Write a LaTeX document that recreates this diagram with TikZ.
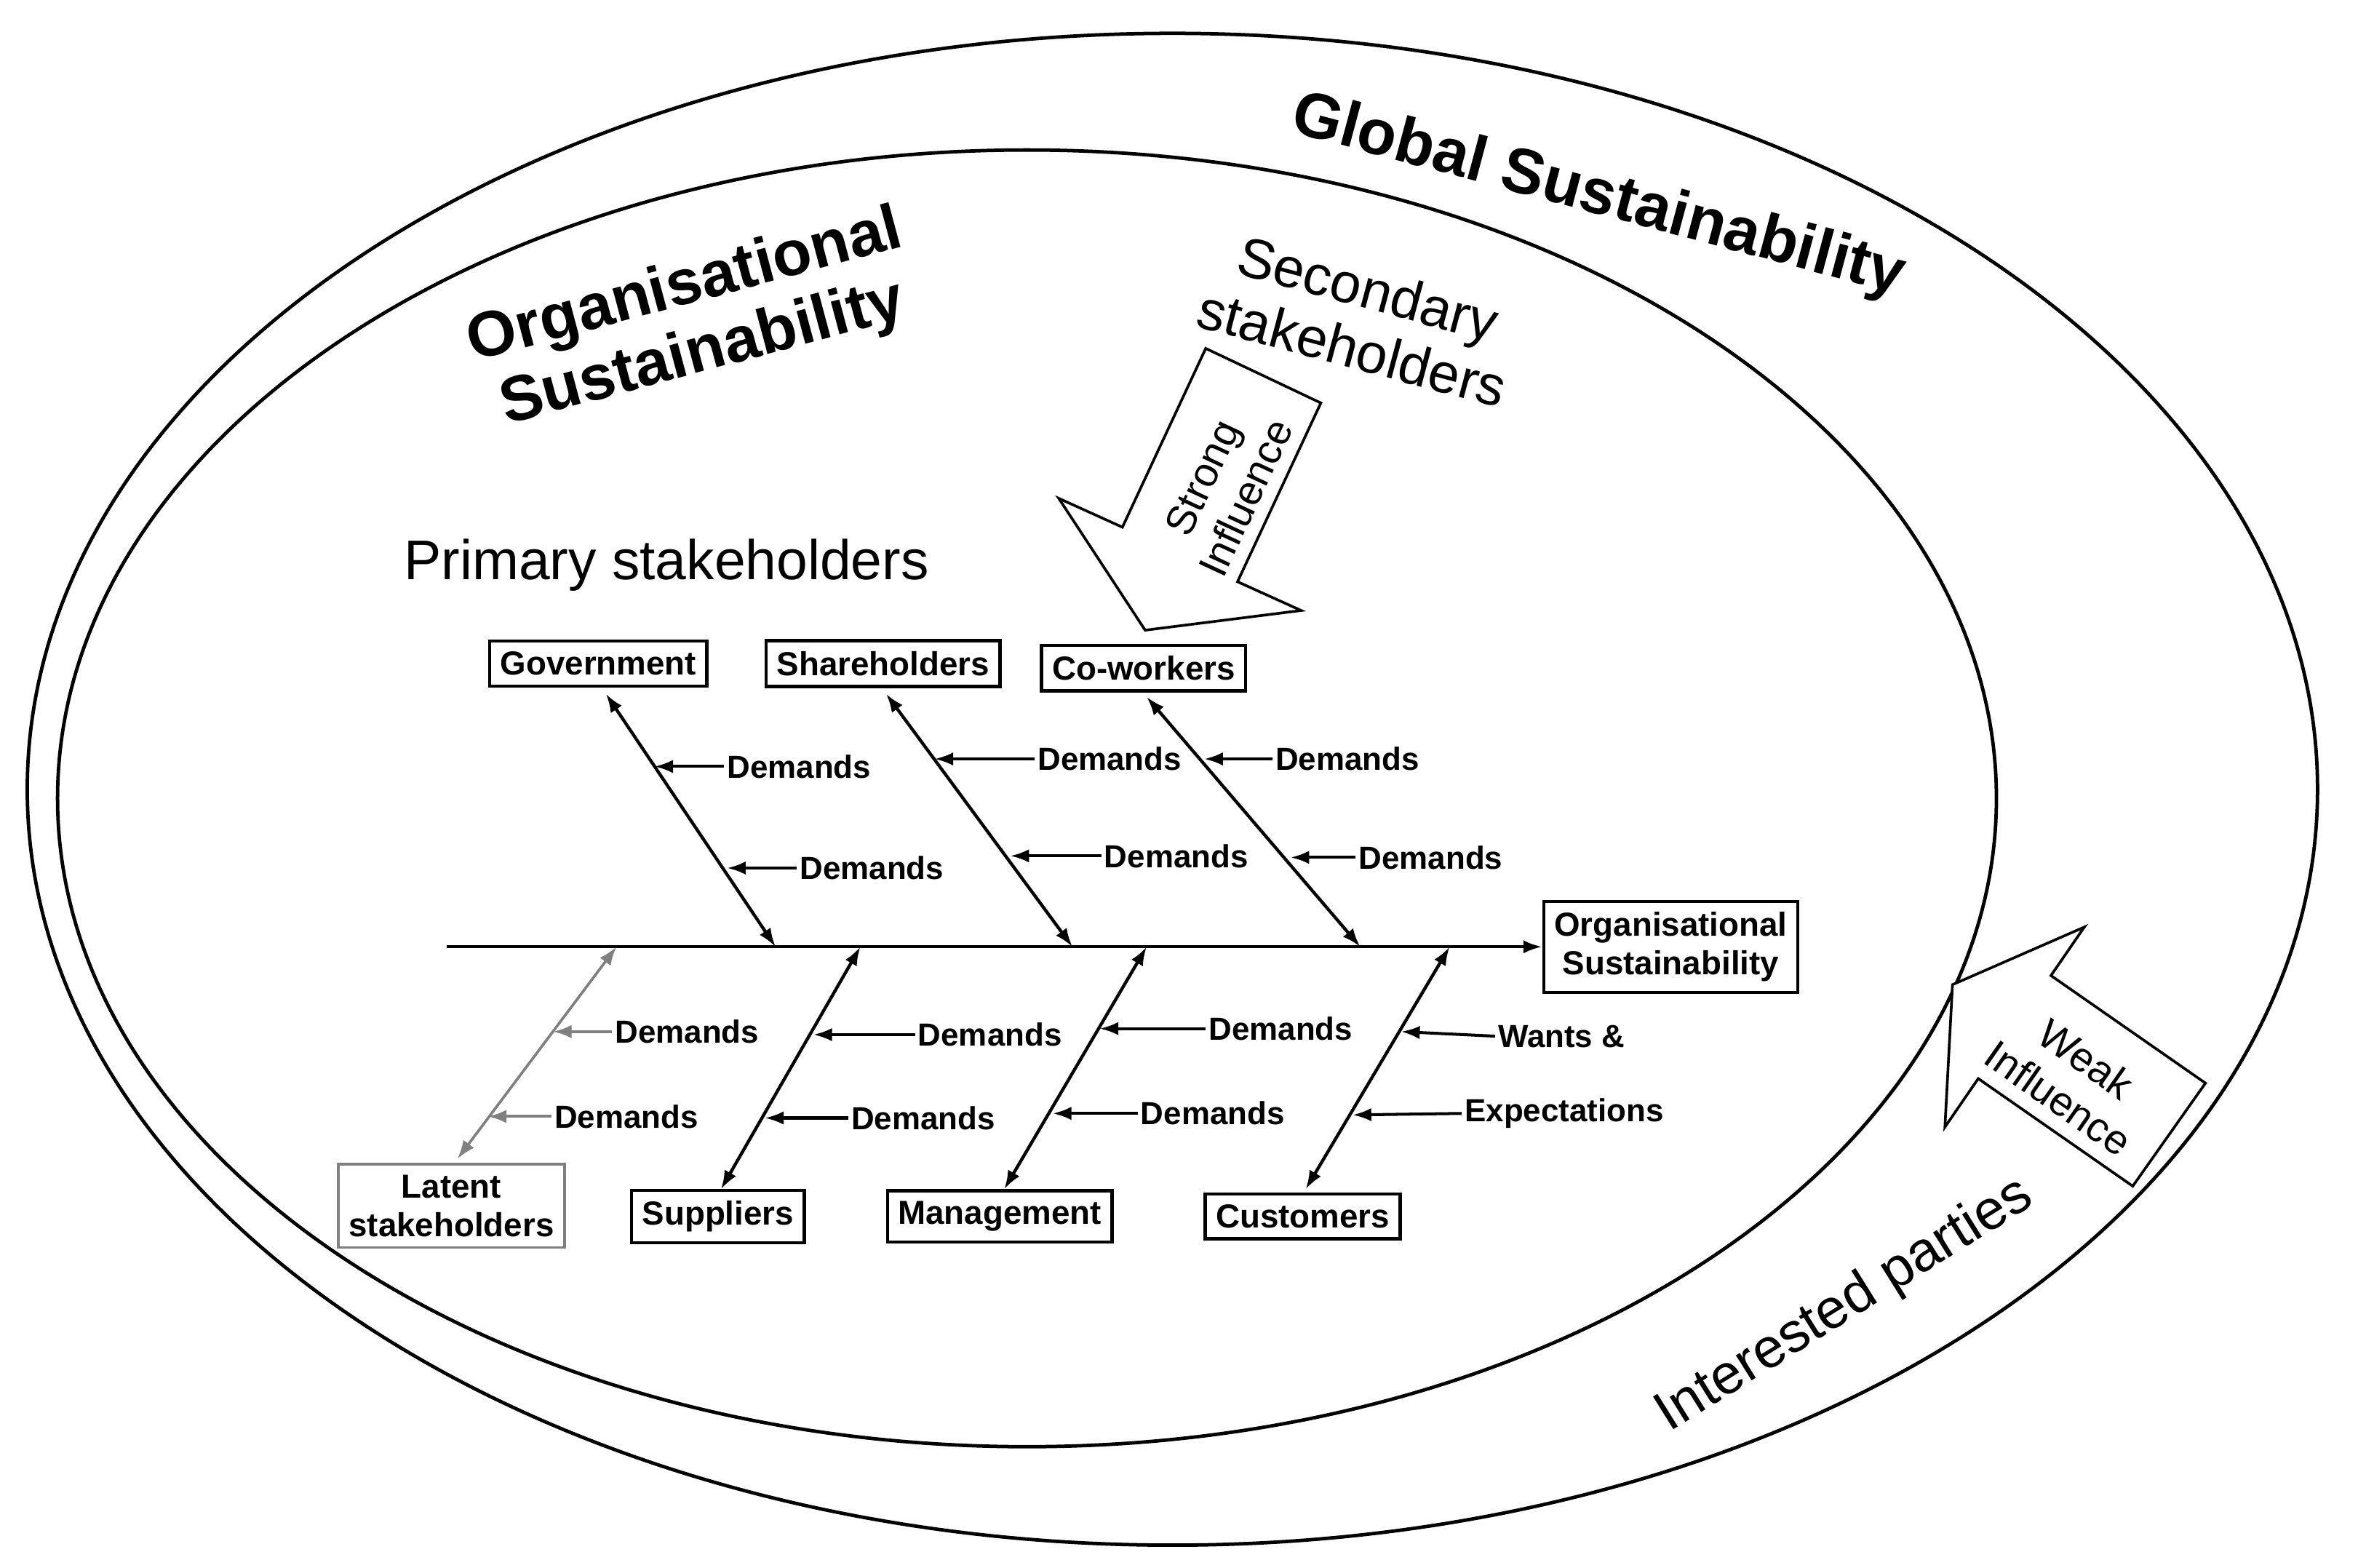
\documentclass[tikz,border=0pt]{standalone}
\usepackage{fontspec}
\setmainfont{Liberation Sans}
\usetikzlibrary{arrows.meta}
\begin{document}
\begin{tikzpicture}[x=0.02cm,y=-0.02cm,
  box/.style={draw,line width=1.2pt,font=\bfseries\fontsize{12.5}{14.5}\selectfont,inner sep=4pt,align=center},
  bone/.style={line width=1.2pt,{Latex[length=7pt,width=5pt]}-{Latex[length=7pt,width=5pt]}},
  dem/.style={line width=1.1pt,-{Latex[length=7pt,width=5pt]}},
  lab/.style={font=\bfseries\fontsize{12}{14}\selectfont,inner sep=1pt,anchor=west},
  big/.style={font=\bfseries\fontsize{24}{26}\selectfont,align=center},
  mid/.style={font=\fontsize{21}{23}\selectfont,align=center}]
\useasboundingbox (0,0) rectangle (1562,1035);
\draw[line width=1.3pt] (774,521) ellipse [x radius=756, y radius=499];
\draw[line width=1.3pt] (678,527) ellipse [x radius=640, y radius=428];
\node[big,rotate=-15] (gs) at (1055,130) {Global Sustainability};
\node[big,rotate=15] (os) at (458,212) {Organisational\\Sustainability};
\node[mid,rotate=-15] (ss) at (898,210) {Secondary\\stakeholders};
\node[mid] (ps) at (440,373) {Primary stakeholders};
\node[mid,rotate=32] (ip) at (1218,862) {Interested parties};
% strong influence arrow
\draw[line width=1pt,fill=white] (796,230)--(872,266)--(817,384)--(859,403)--(756,416)--(699,329)--(741,348)--cycle;
\node[font=\fontsize{15.5}{18}\selectfont,rotate=65,align=center] (si) at (808,322) {Strong\\Influence};
% weak influence arrow
\draw[line width=1pt,fill=white] (1289,650)--(1376,612)--(1354,644)--(1456,715)--(1408,783)--(1306,712)--(1284,744)--cycle;
\node[font=\fontsize{15.5}{18}\selectfont,rotate=-35,align=center] (wi) at (1368,712) {Weak\\Influence};
% spine
\coordinate (s0) at (295,625);
\node[box] (org) at (1103,625) {Organisational\\Sustainability};
\draw[line width=1.2pt,-{Latex[length=7pt,width=5pt]}] (s0) -- (org.west);
% boxes
\node[box] (gov) at (395,438) {Government};
\node[box] (sha) at (583,438) {Shareholders};
\node[box] (cow) at (755,441) {Co-workers};
\node[box,draw=gray,line width=1pt] (lat) at (298,796) {Latent\\stakeholders};
\node[box] (sup) at (474,803) {Suppliers};
\node[box] (man) at (660,803) {Management};
\node[box] (cus) at (860,803) {Customers};
\coordinate (g1) at (512,625); \coordinate (h1) at (708,625); \coordinate (c1) at (898,625);
\coordinate (l1) at (407,625); \coordinate (p1) at (568,625); \coordinate (m1) at (757,625); \coordinate (u1) at (957,625);
\draw[bone] (400,458) -- (g1);
\draw[bone] (585,458) -- (h1);
\draw[bone] (757,460) -- (c1);
\draw[bone,gray,line width=1pt] (l1) -- (302,765);
\draw[bone] (p1) -- (476,785);
\draw[bone] (m1) -- (663,785);
\draw[bone] (u1) -- (862,785);
% demands
\node[lab] (d1) at (478,506) {Demands}; \draw[dem] (d1.west) -- (432,506);
\node[lab] (d2) at (526,573) {Demands}; \draw[dem] (d2.west) -- (480,573);
\node[lab] (d3) at (683,501) {Demands}; \draw[dem] (d3.west) -- (617,501);
\node[lab] (d4) at (727,565) {Demands}; \draw[dem] (d4.west) -- (667,565);
\node[lab] (d5) at (840,501) {Demands}; \draw[dem] (d5.west) -- (795,501);
\node[lab] (d6) at (895,566) {Demands}; \draw[dem] (d6.west) -- (852,566);
\node[lab] (d7) at (404,681) {Demands}; \draw[dem,gray] (d7.west) -- (365,681);
\node[lab] (d8) at (364,737) {Demands}; \draw[dem,gray] (d8.west) -- (322,737);
\node[lab] (d9) at (604,683) {Demands}; \draw[dem] (d9.west) -- (537,683);
\node[lab] (d10) at (560,738) {Demands}; \draw[dem] (d10.west) -- (505,738);
\node[lab] (d11) at (796,679) {Demands}; \draw[dem] (d11.west) -- (726,679);
\node[lab] (d12) at (751,735) {Demands}; \draw[dem] (d12.west) -- (695,735);
\node[lab] (d13) at (987,684) {Wants \&}; \draw[dem] (d13.west) -- (925,681);
\node[lab] (d14) at (965,735) {Expectations}; \draw[dem] (d14.west) -- (893,736);
\end{tikzpicture}
\end{document}
